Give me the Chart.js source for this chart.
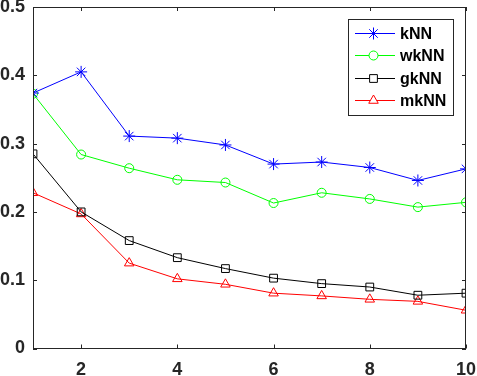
<!DOCTYPE html>
<html>
<head>
<meta charset="utf-8">
<script src="https://cdn.jsdelivr.net/npm/chart.js@4/dist/chart.umd.min.js"></script>
<style>
  html, body { margin: 0; padding: 0; background: #fff; }
  #wrap { width: 477px; height: 376px; }
</style>
</head>
<body>
<div id="wrap"><canvas id="knnChart" width="477" height="376"></canvas></div>
<script>
// k values on the x axis
const kValues = [1, 2, 3, 4, 5, 6, 7, 8, 9, 10];

// error rates
const knn  = [0.374, 0.405, 0.311, 0.308, 0.298, 0.270, 0.273, 0.265, 0.246, 0.263];
const wknn = [0.373, 0.284, 0.264, 0.247, 0.243, 0.213, 0.228, 0.219, 0.207, 0.214];
const gknn = [0.285, 0.200, 0.158, 0.133, 0.117, 0.103, 0.095, 0.090, 0.078, 0.081];
const mknn = [0.228, 0.197, 0.125, 0.102, 0.094, 0.081, 0.077, 0.072, 0.069, 0.056];

const xTicks = [2, 4, 6, 8, 10];
const yTicks = [0, 0.1, 0.2, 0.3, 0.4, 0.5];

const tickColor = '#262626';
const fontFamily = '"Liberation Sans", Arial, sans-serif';

function pts(vals) {
  return vals.map((v, i) => ({ x: kValues[i], y: v }));
}

function series(label, vals, color, style, radius) {
  return {
    label: label,
    data: pts(vals),
    borderColor: color,
    backgroundColor: 'rgba(0,0,0,0)',
    pointBorderColor: color,
    pointBackgroundColor: 'rgba(0,0,0,0)',
    pointStyle: style,
    pointRadius: radius,
    pointBorderWidth: 1,
    borderWidth: 1,
    tension: 0
  };
}

// box, inward ticks and the legend the way MATLAB draws them
const matlabBox = {
  id: 'matlabBox',
  afterDraw(chart) {
    const ctx = chart.ctx;
    const a = chart.chartArea;
    const xs = chart.scales.x, ys = chart.scales.y;
    ctx.save();
    ctx.strokeStyle = tickColor;
    ctx.lineWidth = 1;
    ctx.strokeRect(Math.round(a.left) + 0.5, Math.round(a.top) + 0.5,
                   Math.round(a.right - a.left) - 1, Math.round(a.bottom - a.top) - 1);
    ctx.beginPath();
    xTicks.forEach(t => {
      const px = Math.round(xs.getPixelForValue(t)) + 0.5;
      ctx.moveTo(px, a.bottom); ctx.lineTo(px, a.bottom - 4);
      ctx.moveTo(px, a.top); ctx.lineTo(px, a.top + 4);
    });
    yTicks.forEach(t => {
      const py = Math.round(ys.getPixelForValue(t)) + 0.5;
      ctx.moveTo(a.left, py); ctx.lineTo(a.left + 4, py);
      ctx.moveTo(a.right, py); ctx.lineTo(a.right - 4, py);
    });
    ctx.stroke();

    // legend
    const bx = 348, by = 19, bw = 105, bh = 96;
    ctx.fillStyle = '#fff';
    ctx.fillRect(bx, by, bw, bh);
    ctx.strokeStyle = '#262626';
    ctx.strokeRect(bx + 0.5, by + 0.5, bw, bh);
    ctx.font = 'bold 16px ' + fontFamily;
    ctx.textBaseline = 'middle';
    ctx.textAlign = 'left';
    chart.data.datasets.forEach((ds, i) => {
      const y = Math.round(by + 13.5 + i * 22.5) + 0.5;
      ctx.strokeStyle = ds.borderColor;
      ctx.beginPath();
      ctx.moveTo(bx + 7, y);
      ctx.lineTo(bx + 47, y);
      ctx.stroke();
      ctx.fillStyle = '#fff';
      Chart.helpers.drawPoint(ctx, {
        pointStyle: ds.pointStyle,
        radius: ds.pointRadius,
        rotation: 0,
        borderWidth: 1
      }, bx + 25.5, y);
      ctx.fillStyle = '#000';
      ctx.fillText(ds.label, bx + 52, y + 1);
    });
    ctx.restore();
  }
};

new Chart(document.getElementById('knnChart').getContext('2d'), {
  type: 'line',
  data: {
    datasets: [
      series('kNN', knn, '#0000ff', 'star', 6),
      series('wkNN', wknn, '#00ff00', 'circle', 4.5),
      series('gkNN', gknn, '#000000', 'rect', 5.5),
      series('mkNN', mknn, '#ff0000', 'triangle', 5.5)
    ]
  },
  options: {
    responsive: false,
    animation: false,
    layout: { padding: { top: 6, right: 11, left: 0, bottom: 0 } },
    plugins: {
      legend: { display: false },
      tooltip: { enabled: false }
    },
    scales: {
      x: {
        type: 'linear',
        min: 1,
        max: 10,
        afterBuildTicks: s => { s.ticks = xTicks.map(v => ({ value: v })); },
        afterFit: s => {
          s.height = 27.5;
          s.paddingLeft = 0; s.paddingRight = 0;
        },
        grid: { display: false, drawTicks: false },
        border: { display: false },
        ticks: {
          color: tickColor,
          padding: 11,
          maxRotation: 0,
          font: { family: fontFamily, size: 18, weight: 'bold' }
        }
      },
      y: {
        min: 0,
        max: 0.5,
        afterBuildTicks: s => { s.ticks = yTicks.map(v => ({ value: v })); },
        afterFit: s => {
          s.width = 33;
          s.paddingTop = 0; s.paddingBottom = 0;
        },
        grid: { display: false, drawTicks: false },
        border: { display: false },
        ticks: {
          color: tickColor,
          padding: 8,
          callback: v => String(Math.round(v * 10) / 10),
          font: { family: fontFamily, size: 18, weight: 'bold' }
        }
      }
    }
  },
  plugins: [matlabBox]
});
</script>
</body>
</html>
